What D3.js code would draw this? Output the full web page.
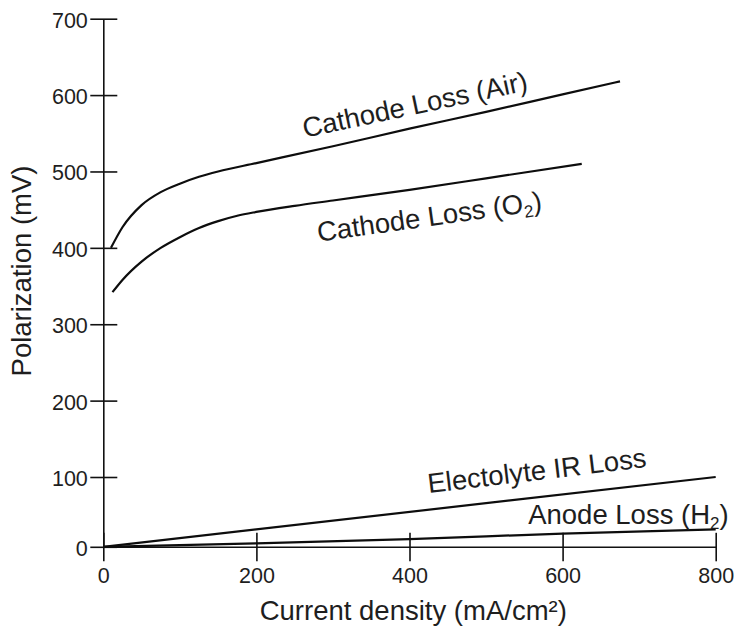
<!DOCTYPE html>
<html><head><meta charset="utf-8">
<script src="https://cdn.jsdelivr.net/npm/d3@7"></script>
<style>
html,body{margin:0;padding:0;background:#fff;}
text{font-family:"Liberation Sans",Arial,sans-serif;fill:#1e1e1e;}
</style></head>
<body>
<svg id="chart" width="734" height="627"></svg>
<script>
// ---- data ----
const xTicks = [0, 200, 400, 600, 800];
const yTicks = [0, 100, 200, 300, 400, 500, 600, 700];

const cathodeAirX = [10, 25, 50, 75, 100, 125, 150, 200, 300, 400, 500, 600, 675];
const cathodeAirY = [400, 427, 456, 473, 484, 493, 500, 511, 533, 556, 578, 601, 618];

const cathodeO2X = [12, 25, 50, 75, 100, 125, 150, 175, 200, 250, 300, 400, 500, 625];
const cathodeO2Y = [342, 358, 382, 400, 414, 426, 435, 442, 447, 455, 462, 476, 491, 510];

const electrolyteX = [0, 800];
const electrolyteY = [0, 100];

const anodeX = [0, 200, 400, 600, 800];
const anodeY = [0, 5, 11, 19, 25];

const labels = [
  {text: "Cathode Loss (Air)", x: 263, y: 544, angle: -12, sub: null},
  {text: "Cathode Loss (O", x: 281, y: 408, angle: -8, sub: "2"},
  {text: "Electolyte IR Loss", x: 425, y: 77, angle: -6.8, sub: null},
  {text: "Anode Loss (H", x: 555, y: 33, angle: 0, sub: "2"}
];

const xTitle = "Current density (mA/cm²)";
const yTitle = "Polarization (mV)";

// ---- scales ----
const svg = d3.select("#chart");
const x = d3.scaleLinear().domain([0, 800]).range([103.3, 715.7]);
// the reference's vertical scale is slightly compressed between 0 and 100
const y = d3.scaleLinear().domain([0, 100, 700]).range([546.8, 477, 18.7]);

// ---- axes ----
const yAxis = svg.append("g").attr("transform", `translate(${x(0)},0)`)
  .call(d3.axisLeft(y).tickValues(yTicks).tickSize(13).tickSizeOuter(0));
yAxis.select(".domain").attr("stroke", "#111").attr("stroke-width", 1.6);
yAxis.selectAll(".tick line").attr("x1", 14).attr("stroke", "#111").attr("stroke-width", 1.6);
yAxis.selectAll(".tick text").attr("x", -15.5).attr("dy", 0).attr("y", 8.5)
  .attr("font-size", 21.5).attr("font-family", null).attr("fill", "#1e1e1e");

const xAxis = svg.append("g").attr("transform", `translate(0,${y(0)})`)
  .call(d3.axisBottom(x).tickValues(xTicks).tickSize(14.5).tickSizeOuter(0));
xAxis.select(".domain").attr("stroke", "#111").attr("stroke-width", 1.6);
xAxis.selectAll(".tick line").attr("y1", -14).attr("stroke", "#111").attr("stroke-width", 1.6);
xAxis.selectAll(".tick text").attr("y", 36).attr("dy", 0)
  .attr("font-size", 21.5).attr("font-family", null).attr("fill", "#1e1e1e");

// ---- curves ----
const line = d3.line().x(d => x(d[0])).y(d => y(d[1])).curve(d3.curveMonotoneX);
const series = [
  [cathodeAirX, cathodeAirY],
  [cathodeO2X, cathodeO2Y],
  [electrolyteX, electrolyteY],
  [anodeX, anodeY]
];
series.forEach(([xs, ys]) => {
  svg.append("path")
    .datum(xs.map((v, i) => [v, ys[i]]))
    .attr("d", line)
    .attr("fill", "none")
    .attr("stroke", "#0d0d0d")
    .attr("stroke-width", 2.2)
    .attr("stroke-linejoin", "round");
});

// ---- curve labels ----
labels.forEach(l => {
  const t = svg.append("text")
    .attr("transform", `translate(${x(l.x)},${y(l.y)}) rotate(${l.angle})`)
    .attr("font-size", 27.5);
  t.append("tspan").text(l.text);
  if (l.sub) {
    t.append("tspan").attr("font-size", 17).attr("dy", 5).text(l.sub);
    t.append("tspan").attr("dy", -5).text(")");
  }
});

// ---- axis titles ----
svg.append("text")
  .attr("x", 413.3).attr("y", 619.5)
  .attr("text-anchor", "middle").attr("font-size", 27.5)
  .text(xTitle);

svg.append("text")
  .attr("transform", "translate(30.5,271) rotate(-90)")
  .attr("text-anchor", "middle").attr("font-size", 27.5)
  .text(yTitle);
</script>
</body></html>
